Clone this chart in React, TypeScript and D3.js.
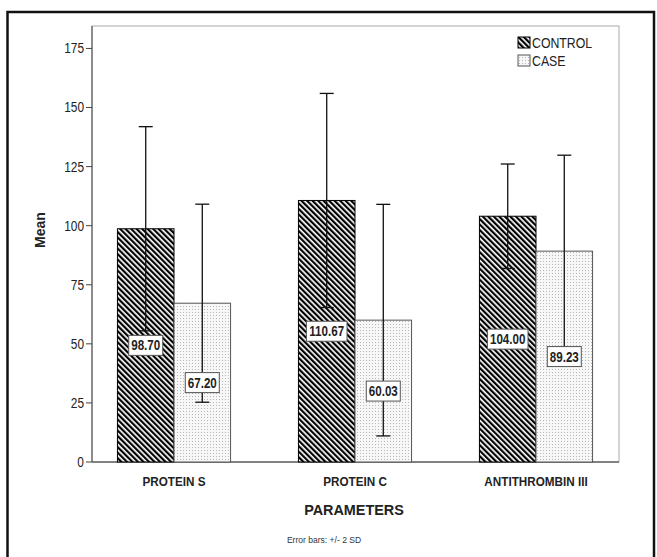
import React from 'react';
import { scaleBand, scaleLinear } from 'd3';

const categories = ['PROTEIN S', 'PROTEIN C', 'ANTITHROMBIN III'];
const groups = ['CONTROL', 'CASE'];
const controlMeans = [98.7, 110.67, 104.0];
const caseMeans = [67.2, 60.03, 89.23];
// half-width of the error bar (2 SD)
const controlErr = [43.2, 45.3, 22.1];
const caseErr = [41.9, 49.0, 40.6];
const yTicks = [0, 25, 50, 75, 100, 125, 150, 175];

const width = 657;
const height = 557;
const plot = { left: 92, right: 619, top: 26, bottom: 462 };
const font = '"Liberation Sans", Arial, sans-serif';

// the original's type is narrow, so squeeze it a little
const Narrow = ({ x, y, sx = 0.86, children, ...rest }: any) => (
  <text transform={`translate(${x},${y}) scale(${sx},1)`} fontFamily={font} {...rest}>{children}</text>
);

function App() {
  const y = scaleLinear().domain([0, 184.5]).range([plot.bottom, plot.top]);
  const x0 = scaleBand().domain(categories).range([83.5, 626.5]);
  const x1 = scaleBand().domain(groups).range([0, x0.bandwidth()]).paddingOuter(0.6);

  const rows = categories.flatMap((c, i) => [
    { cat: c, group: 'CONTROL', mean: controlMeans[i], err: controlErr[i] },
    { cat: c, group: 'CASE', mean: caseMeans[i], err: caseErr[i] },
  ]);

  return (
    <svg width={width} height={height} style={{ display: 'block', position: 'absolute', left: 0, top: 0 }}>
      <defs>
        <pattern id="hatch" width="3.9" height="3.9" patternUnits="userSpaceOnUse" patternTransform="rotate(-45)">
          <rect width="3.9" height="3.9" fill="#fff" />
          <rect width="2.2" height="3.9" fill="#000" />
        </pattern>
        <pattern id="dots" width="3" height="3" patternUnits="userSpaceOnUse">
          <rect width="3" height="3" fill="#f7f7f7" />
          <rect width="1" height="1" fill="#b8b8b8" />
        </pattern>
      </defs>
      <rect x={0} y={0} width={width} height={height} fill="#fff" />
      {/* outer frame */}
      <path d={`M7.5,${height + 5} V12 H654 V${height + 5}`} fill="none" stroke="#111" strokeWidth={2.5} />

      {/* plot frame */}
      <rect x={plot.left} y={plot.top} width={plot.right - plot.left} height={plot.bottom - plot.top}
        fill="none" stroke="#aaa" strokeWidth={1} />
      <line x1={plot.left} x2={plot.left} y1={plot.top} y2={plot.bottom} stroke="#666" strokeWidth={1.3} />
      <line x1={plot.left} x2={plot.right} y1={plot.bottom} y2={plot.bottom} stroke="#666" strokeWidth={1.3} />

      {yTicks.map(t => (
        <g key={t}>
          <line x1={plot.left - 6} x2={plot.left} y1={y(t)} y2={y(t)} stroke="#444" strokeWidth={1} />
          <Narrow x={plot.left - 8} y={y(t)} sx={0.85} dy="0.35em" textAnchor="end" fontSize={14} fill="#222">{t}</Narrow>
        </g>
      ))}
      <text transform={`translate(45,230) rotate(-90)`} textAnchor="middle" fontFamily={font} fontSize={14}
        fontWeight="bold" fill="#222">Mean</text>

      {/* bars */}
      {rows.map(r => {
        const bx = (x0(r.cat) as number) + (x1(r.group) as number);
        const isCtrl = r.group === 'CONTROL';
        return (
          <rect key={r.cat + r.group} x={bx} y={y(r.mean)} width={x1.bandwidth()} height={y(0) - y(r.mean)}
            fill={isCtrl ? 'url(#hatch)' : 'url(#dots)'} stroke={isCtrl ? '#000' : '#555'} strokeWidth={1} />
        );
      })}

      {/* error bars */}
      {rows.map(r => {
        const cx = (x0(r.cat) as number) + (x1(r.group) as number) + x1.bandwidth() / 2;
        const hi = y(r.mean + r.err);
        const lo = y(r.mean - r.err);
        return (
          <g key={'e' + r.cat + r.group} stroke="#111" strokeWidth={1.3}>
            <line x1={cx} x2={cx} y1={hi} y2={lo} />
            <line x1={cx - 7} x2={cx + 7} y1={hi} y2={hi} />
            <line x1={cx - 7} x2={cx + 7} y1={lo} y2={lo} />
          </g>
        );
      })}

      {/* value labels */}
      {rows.map(r => {
        const cx = (x0(r.cat) as number) + (x1(r.group) as number) + x1.bandwidth() / 2;
        const cy = y(r.mean / 2);
        const label = r.mean.toFixed(2);
        const w = label.length * 6.6 + 1;
        return (
          <g key={'l' + r.cat + r.group}>
            <rect x={cx - w / 2} y={cy - 10} width={w} height={20} fill="#fff" stroke="#555" strokeWidth={1} />
            <Narrow x={cx} y={cy} sx={0.83} dy="0.36em" textAnchor="middle" fontSize={14} fontWeight="bold"
              fill="#222">{label}</Narrow>
          </g>
        );
      })}

      {categories.map(c => (
        <Narrow key={c} x={(x0(c) as number) + x0.bandwidth() / 2} y={486} sx={0.9} textAnchor="middle"
          fontSize={13} fontWeight="bold" fill="#222">{c}</Narrow>
      ))}
      <Narrow x={354} y={515} sx={0.93} textAnchor="middle" fontSize={15.5} fontWeight="bold" fill="#222">PARAMETERS</Narrow>
      <Narrow x={324} y={543} sx={0.9} textAnchor="middle" fontSize={9.5} fill="#333">Error bars: +/- 2 SD</Narrow>

      {/* legend */}
      <rect x={518} y={37} width={12} height={11} fill="url(#hatch)" stroke="#000" strokeWidth={1} />
      <Narrow x={532} y={47.5} sx={0.88} fontSize={14} fill="#222">CONTROL</Narrow>
      <rect x={518} y={55} width={12} height={11} fill="url(#dots)" stroke="#555" strokeWidth={1} />
      <Narrow x={532} y={65.5} sx={0.88} fontSize={14} fill="#222">CASE</Narrow>
    </svg>
  );
}

export default App;
